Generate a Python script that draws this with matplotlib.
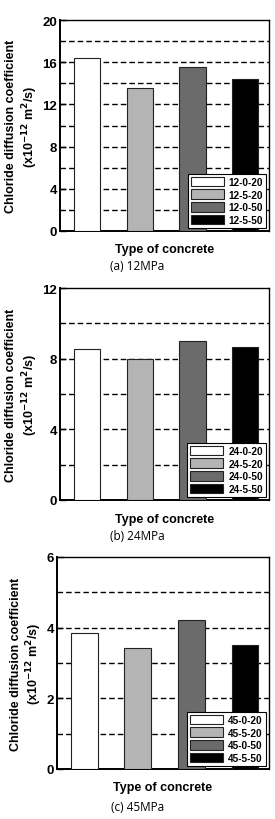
import matplotlib.pyplot as plt
import numpy as np

plt.rcParams['font.family'] = ['Liberation Sans', 'DejaVu Sans']

# Data ==========================
values_12 = [16.4, 13.6, 15.5, 14.4]
values_24 = [8.55, 8.0, 8.98, 8.64]
values_45 = [3.84, 3.42, 4.23, 3.50]
labels_12 = ['12-0-20', '12-5-20', '12-0-50', '12-5-50']
labels_24 = ['24-0-20', '24-5-20', '24-0-50', '24-5-50']
labels_45 = ['45-0-20', '45-5-20', '45-0-50', '45-5-50']
ymax = [20, 12, 6]
ystep = [4, 4, 2]
gstep = [2, 2, 1]
captions = ['(a) 12MPa', '(b) 24MPa', '(c) 45MPa']

colors = ['white', '#b4b4b4', '#6b6b6b', 'black']

# Layout (pixels, top-down) =====
W, H = 275, 820
boxes = [(60, 269, 21, 232), (60, 269, 289, 501), (57, 269, 558, 770)]
caption_y = [267, 537, 808]

fig = plt.figure(figsize=(W / 100, H / 100), dpi=100)

panels = zip([values_12, values_24, values_45], [labels_12, labels_24, labels_45],
             ymax, ystep, gstep, captions, boxes, caption_y)
for vals, labs, ym, ys, gs, cap, (l, r, t, b), cy in panels:
    ax = fig.add_axes([l / W, (H - b) / H, (r - l) / W, (b - t) / H])
    x = np.arange(len(vals))
    bars = ax.bar(x, vals, width=0.5, color=colors, edgecolor='#222222', linewidth=0.8, zorder=3)
    for g in np.arange(gs, ym, gs):
        ax.axhline(g, color='black', linestyle=(0, (4, 2.2)), linewidth=1.0, zorder=1)
    ax.set_xlim(-0.51, 3.45)
    ax.set_ylim(0, ym)
    ax.set_yticks(np.arange(0, ym + 0.1, ys))
    ax.set_xticks([])
    ax.tick_params(axis='y', direction='in', length=4, width=1, labelsize=9.5, pad=2)
    for lbl in ax.get_yticklabels():
        lbl.set_fontweight('bold')
    for s in ax.spines.values():
        s.set_linewidth(1.0)
    ax.spines['left'].set_linewidth(1.4)
    ax.spines['bottom'].set_linewidth(1.4)
    ax.set_xlabel('Type of concrete', fontsize=9, fontweight='bold', labelpad=9)
    ax.set_ylabel('Chloride diffusion coefficient\n(x10$^{\\mathbf{-12}}$ m$^{\\mathbf{2}}$/s)',
                  fontsize=9, fontweight='bold', labelpad=2, linespacing=1.2)
    leg = ax.legend(bars, labs, loc='lower right', fontsize=7.2, handlelength=3.3,
                    handleheight=1.1, labelspacing=0.25, borderpad=0.3, borderaxespad=0.3,
                    handletextpad=0.5, fancybox=False, framealpha=1, edgecolor='black')
    leg.get_frame().set_linewidth(0.8)
    for txt in leg.get_texts():
        txt.set_fontweight('bold')
    fig.text(0.5, 1 - cy / H, cap, ha='center', va='center', fontsize=8.5, family='Open Sans')

fig.savefig('out.png', dpi=100)
